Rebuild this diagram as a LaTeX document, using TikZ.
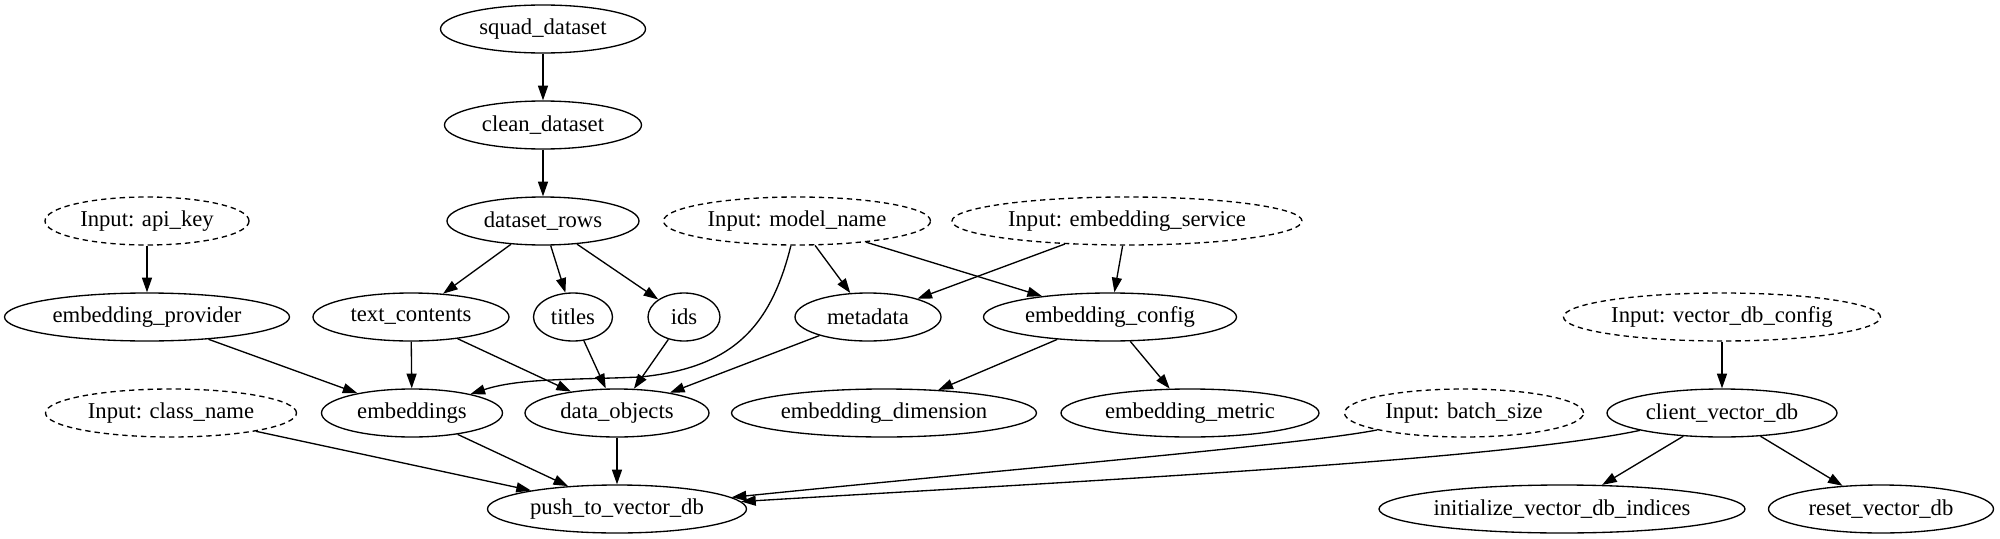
\documentclass[tikz,border=0pt]{standalone}
\usepackage{fontspec}
\setmainfont{Liberation Serif}
\usetikzlibrary{shapes.geometric,arrows.meta}
\newcommand\lbl[1]{\makebox[0pt]{#1}}
\tikzset{
  gnode/.style={ellipse,draw,line width=1pt,inner sep=0pt,minimum height=36pt,font=\fontsize{17}{20}\selectfont},
  mw/.style={minimum width=#1*0.75pt},
  inp/.style={gnode,dash pattern=on 4pt off 3pt},
  edge/.style={line width=1pt,-{Triangle[length=11pt,width=7.5pt]}}
}
\begin{document}
\begin{tikzpicture}[x=0.75pt,y=-0.75pt]
\useasboundingbox (0,0) rectangle (2000,539);
\node[gnode,mw=205] (squad) at (543,29) {\lbl{squad\_dataset}};
\node[gnode,mw=197] (clean) at (543,125) {\lbl{clean\_dataset}};
\node[gnode,mw=192] (rows) at (543,221) {\lbl{dataset\_rows}};
\node[inp,mw=204] (inapi) at (147,221) {\lbl{Input: api\_key}};
\node[inp,mw=267] (inmodel) at (797,221) {\lbl{Input: model\_name}};
\node[inp,mw=350] (insvc) at (1127,221) {\lbl{Input: embedding\_service}};
\node[gnode,mw=285] (provider) at (147,317) {\lbl{embedding\_provider}};
\node[gnode,mw=196] (texts) at (411,317) {\lbl{text\_contents}};
\node[gnode,mw=79] (titles) at (573,317) {\lbl{titles}};
\node[gnode,mw=72] (ids) at (684,317) {\lbl{ids}};
\node[gnode,mw=146] (meta) at (868,317) {\lbl{metadata}};
\node[gnode,mw=253] (config) at (1110,317) {\lbl{embedding\_config}};
\node[inp,mw=317] (invdb) at (1722,317) {\lbl{Input: vector\_db\_config}};
\node[inp,mw=251] (inclass) at (171,413) {\lbl{Input: class\_name}};
\node[gnode,mw=181] (emb) at (412,413) {\lbl{embeddings}};
\node[gnode,mw=184] (data) at (617,413) {\lbl{data\_objects}};
\node[gnode,mw=305] (dim) at (884,413) {\lbl{embedding\_dimension}};
\node[gnode,mw=258] (metric) at (1190,413) {\lbl{embedding\_metric}};
\node[inp,mw=239] (inbatch) at (1464,413) {\lbl{Input: batch\_size}};
\node[gnode,mw=230] (client) at (1722,413) {\lbl{client\_vector\_db}};
\node[gnode,mw=259] (push) at (617,509) {\lbl{push\_to\_vector\_db}};
\node[gnode,mw=366] (init) at (1562,509) {\lbl{initialize\_vector\_db\_indices}};
\node[gnode,mw=225] (reset) at (1881,509) {\lbl{reset\_vector\_db}};

\draw[edge] (squad) -- (clean);
\draw[edge] (clean) -- (rows);
\draw[edge] (rows) -- (texts);
\draw[edge] (rows) -- (titles);
\draw[edge] (rows) -- (ids);
\draw[edge] (inapi) -- (provider);
\draw[edge] (inmodel) -- (meta);
\draw[edge] (inmodel) -- (config);
\draw[edge] (inmodel) .. controls (770,330) and (730,368) .. (640,377) .. controls (570,380) and (520,378) .. (emb);
\draw[edge] (insvc) -- (meta);
\draw[edge] (insvc) -- (config);
\draw[edge] (texts) -- (emb);
\draw[edge] (texts) -- (data);
\draw[edge] (provider) -- (emb);
\draw[edge] (titles) -- (data);
\draw[edge] (ids) -- (data);
\draw[edge] (meta) -- (data);
\draw[edge] (config) -- (dim);
\draw[edge] (config) -- (metric);
\draw[edge] (invdb) -- (client);
\draw[edge] (inclass) -- (push);
\draw[edge] (emb) -- (push);
\draw[edge] (data) -- (push);
\draw[edge] (inbatch) .. controls (1300,445) and (1000,470) .. (push);
\draw[edge] (client) .. controls (1500,460) and (1100,480) .. (push);
\draw[edge] (client) -- (init);
\draw[edge] (client) -- (reset);
\end{tikzpicture}
\end{document}
